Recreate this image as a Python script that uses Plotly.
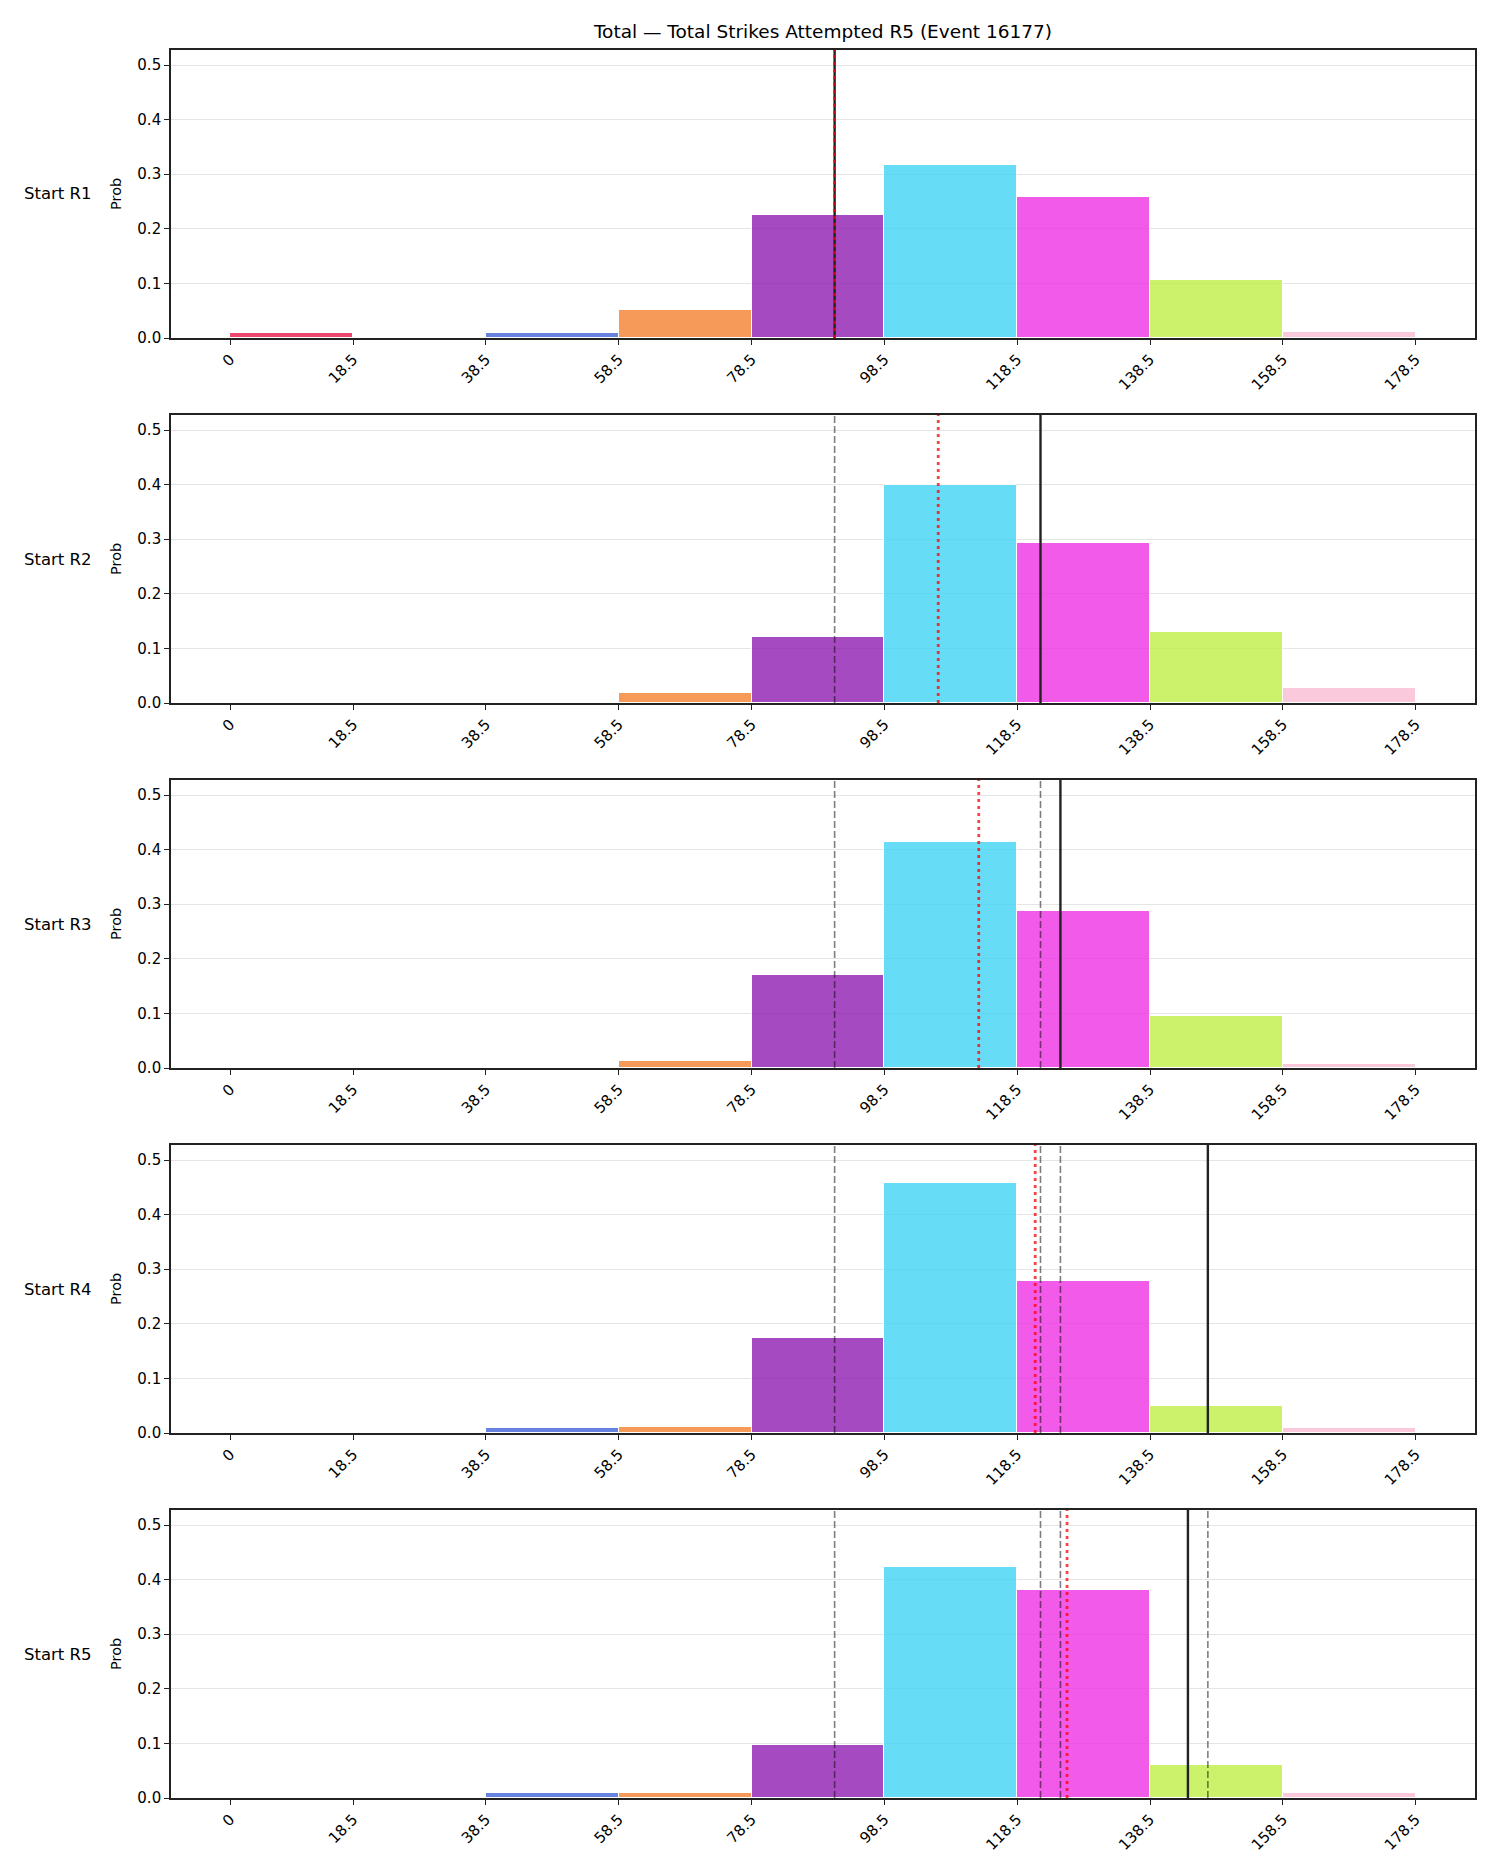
import plotly.graph_objects as go
from plotly.subplots import make_subplots

# ---------------- data ----------------
bin_edges = [0, 18.5, 38.5, 58.5, 78.5, 98.5, 118.5, 138.5, 158.5, 178.5]
tick_labels = ["0", "18.5", "38.5", "58.5", "78.5", "98.5", "118.5", "138.5", "158.5", "178.5"]
row_labels = ["Start R1", "Start R2", "Start R3", "Start R4", "Start R5"]

probs_r1 = [0.009, 0.0, 0.009, 0.051, 0.226, 0.317, 0.259, 0.107, 0.011]
probs_r2 = [0.0, 0.0, 0.0, 0.019, 0.121, 0.400, 0.293, 0.130, 0.027]
probs_r3 = [0.0, 0.0, 0.0, 0.012, 0.170, 0.414, 0.287, 0.096, 0.008]
probs_r4 = [0.0, 0.0, 0.009, 0.011, 0.174, 0.457, 0.279, 0.049, 0.009]
probs_r5 = [0.0, 0.0, 0.009, 0.009, 0.097, 0.424, 0.381, 0.060, 0.009]
all_probs = [probs_r1, probs_r2, probs_r3, probs_r4, probs_r5]

# solid black line per panel, red dotted line per panel
solid_values = [91.0, 122.0, 125.0, 147.2, 144.2]
dotted_values = [91.0, 106.6, 112.7, 121.2, 126.0]

bin_colors = ["#e6194B", "#3cb44b", "#4363d8", "#f58231", "#911eb4",
              "#42d4f4", "#f032e6", "#bfef45", "#fabed4"]

title_text = "Total \u2014 Total Strikes Attempted R5 (Event 16177)"

# ---------------- figure ----------------
W, H = 1500, 1875
ML, MR, MT, MB = 171, 25, 50, 77
plot_w = W - ML - MR
plot_h = H - MT - MB
gap = 77
n = len(all_probs)

fig = make_subplots(rows=n, cols=1, vertical_spacing=gap / plot_h)

centers = [(bin_edges[i] + bin_edges[i + 1]) / 2 for i in range(len(bin_edges) - 1)]
widths = [bin_edges[i + 1] - bin_edges[i] for i in range(len(bin_edges) - 1)]

FONT = "DejaVu Sans"
AX = "#222222"
x_pad = 0.05 * (bin_edges[-1] - bin_edges[0])
ymax = 0.5275
TICK_FS = 15

for k, probs in enumerate(all_probs):
    r = k + 1
    fig.add_trace(go.Bar(x=centers, y=probs, width=widths,
                         marker=dict(color=bin_colors, opacity=0.8,
                                     line=dict(color="white", width=1)),
                         showlegend=False, hoverinfo="x+y"), row=r, col=1)
    fig.update_xaxes(row=r, col=1, range=[bin_edges[0] - x_pad, bin_edges[-1] + x_pad],
                     tickmode="array", tickvals=bin_edges, ticktext=tick_labels,
                     tickangle=-45, ticks="outside", ticklen=5, tickwidth=1.2, tickcolor=AX,
                     showline=True, mirror=True, linecolor=AX, linewidth=1.6,
                     showgrid=False, zeroline=False,
                     tickfont=dict(family=FONT, size=TICK_FS, color="#000"))
    fig.update_yaxes(row=r, col=1, range=[0, ymax],
                     tickmode="array", tickvals=[0, 0.1, 0.2, 0.3, 0.4, 0.5],
                     ticktext=["0.0", "0.1", "0.2", "0.3", "0.4", "0.5"],
                     ticks="outside", ticklen=5, tickwidth=1.2, tickcolor=AX,
                     showline=True, mirror=True, linecolor=AX, linewidth=1.6,
                     showgrid=True, gridcolor="#e5e5e5", gridwidth=1, zeroline=False,
                     tickfont=dict(family=FONT, size=TICK_FS, color="#000"))

    xref = "x" if r == 1 else f"x{r}"
    yref = ("y" if r == 1 else f"y{r}") + " domain"
    # dashed lines for previous rounds
    for v in solid_values[:k]:
        fig.add_shape(type="line", xref=xref, yref=yref, x0=v, x1=v, y0=0, y1=1,
                      line=dict(color="rgba(0,0,0,0.5)", width=1.6, dash="7px,3px"),
                      layer="above")
    fig.add_shape(type="line", xref=xref, yref=yref, x0=solid_values[k], x1=solid_values[k],
                  y0=0, y1=1, line=dict(color="#222222", width=2.4), layer="above")
    fig.add_shape(type="line", xref=xref, yref=yref, x0=dotted_values[k], x1=dotted_values[k],
                  y0=0, y1=1, line=dict(color="rgba(255,0,0,0.75)", width=2.8, dash="3px,4px"),
                  layer="above")

    # labels
    top_px = MT + k * (288 + gap)
    center_px = top_px + 144
    y_paper = (H - MB - center_px) / plot_h
    fig.add_annotation(text=row_labels[k], xref="paper", yref="paper",
                       x=(22 - ML) / plot_w, y=y_paper, xanchor="left", yanchor="middle",
                       showarrow=False, font=dict(family=FONT, size=16.5, color="#000"))
    fig.add_annotation(text="Prob", xref="paper", yref="paper", textangle=-90,
                       x=(116 - ML) / plot_w, y=y_paper, xanchor="center", yanchor="middle",
                       showarrow=False, font=dict(family=FONT, size=14.5, color="#000"))

fig.update_layout(
    width=W, height=H,
    margin=dict(l=ML, r=MR, t=MT, b=MB),
    paper_bgcolor="white", plot_bgcolor="white",
    bargap=0, showlegend=False,
    title=dict(text=title_text, x=0.5, xref="paper", xanchor="center",
               y=1 - 32 / H, yref="container", yanchor="middle",
               font=dict(family=FONT, size=18.5, color="#000")),
)

fig.write_html("out.html")
